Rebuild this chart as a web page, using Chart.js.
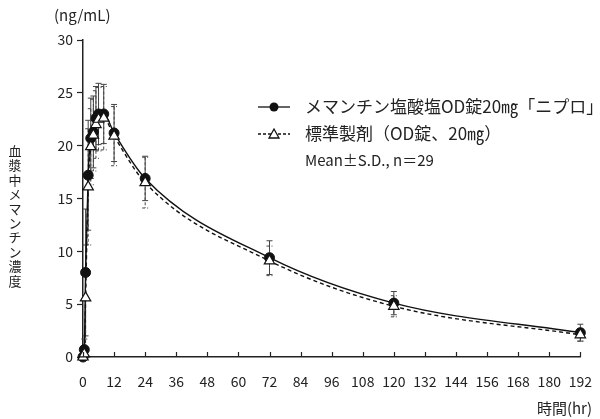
<!DOCTYPE html>
<html>
<head>
<meta charset="utf-8">
<script src="https://cdn.jsdelivr.net/npm/chart.js@4.4.1/dist/chart.umd.min.js"></script>
<style>
  html, body { margin: 0; padding: 0; background: #fff; }
  #wrap { position: relative; width: 600px; height: 419px; }
</style>
</head>
<body>
<div id="wrap"><canvas id="pkChart" width="600" height="419"></canvas></div>
<script>
// sampling times (hr)
var times = [0, 0.5, 1, 2, 3, 4, 5, 6, 8, 12, 24, 72, 120, 192];
// memantine OD 20mg "Nipro" (mean, SD)
var testMean = [0, 0.7, 8.0, 17.2, 20.7, 21.3, 22.6, 23.0, 23.0, 21.2, 16.9, 9.4, 5.1, 2.3];
var testSD   = [0, 1.0, 6.0, 5.2, 3.8, 3.4, 3.0, 2.9, 2.8, 2.7, 2.1, 1.6, 1.1, 0.8];
// reference product (mean, SD)
var refMean  = [0, 0.3, 5.6, 16.1, 19.9, 21.0, 22.0, 22.5, 22.6, 20.9, 16.5, 9.1, 4.8, 2.1];
var refSD    = [0, 0.6, 5.0, 5.5, 3.6, 3.4, 3.2, 3.0, 3.0, 2.8, 2.4, 1.4, 1.0, 0.6];

var xTicks = [0, 12, 24, 36, 48, 60, 72, 84, 96, 108, 120, 132, 144, 156, 168, 180, 192];
var yTicks = [0, 5, 10, 15, 20, 25, 30];

var legendLabels = ['メマンチン塩酸塩OD錠20㎎「ニプロ」', '標準製剤（OD錠、20㎎）', 'Mean±S.D., n＝29'];
var yTitle = '血漿中メマンチン濃度';

var FONT = '"Noto Sans CJK JP", "Noto Sans", sans-serif';
var INK = '#222';

function toXY(xs, ys) {
    return xs.map(function (x, i) { return { x: x, y: ys[i] }; });
}

var extrasPlugin = {
    id: 'extras',
    beforeDatasetsDraw: function (chart) {
        var c = chart.ctx, xs = chart.scales.x, ys = chart.scales.y;
        // error bars
        var sets = [[testMean, testSD, []], [refMean, refSD, [3, 2]]];
        c.save();
        c.strokeStyle = '#444';
        c.lineWidth = 1;
        sets.forEach(function (s) {
            c.setLineDash(s[2]);
            times.forEach(function (t, i) {
                if (!s[1][i]) return;
                var px = xs.getPixelForValue(t);
                var hi = ys.getPixelForValue(s[0][i] + s[1][i]);
                var lo = ys.getPixelForValue(Math.max(0, s[0][i] - s[1][i]));
                c.beginPath();
                c.moveTo(px, hi); c.lineTo(px, lo);
                c.moveTo(px - 3, hi); c.lineTo(px + 3, hi);
                c.moveTo(px - 3, lo); c.lineTo(px + 3, lo);
                c.stroke();
            });
        });
        c.restore();
    },
    afterDraw: function (chart) {
        var c = chart.ctx, xs = chart.scales.x, area = chart.chartArea;
        c.save();
        // x ticks pointing inward
        c.strokeStyle = INK;
        c.lineWidth = 1.2;
        xTicks.forEach(function (t) {
            var px = Math.round(xs.getPixelForValue(t)) + 0.5;
            c.beginPath();
            c.moveTo(px, area.bottom);
            c.lineTo(px, area.bottom - 5);
            c.stroke();
        });

        c.fillStyle = INK;
        c.font = '15px ' + FONT;
        c.textBaseline = 'middle';
        c.textAlign = 'left';
        c.fillText('(ng/mL)', 54, 15);
        c.textAlign = 'right';
        c.fillText('時間(hr)', 592, 408);

        // vertical title, upright characters
        c.textAlign = 'center';
        c.font = '13px ' + FONT;
        var chars = yTitle.split('');
        var step = 14.4;
        var y0 = 151;
        chars.forEach(function (ch, i) {
            c.fillText(ch, 15, y0 + i * step);
        });

        // legend
        var lx = 258, rows = [107, 134, 160];
        c.lineWidth = 1.3;
        c.strokeStyle = '#111';
        c.beginPath();
        c.moveTo(lx, rows[0]); c.lineTo(lx + 32, rows[0]);
        c.stroke();
        c.fillStyle = '#111';
        c.beginPath();
        c.arc(lx + 16, rows[0], 4.5, 0, Math.PI * 2);
        c.fill();

        c.setLineDash([3, 2]);
        c.beginPath();
        c.moveTo(lx, rows[1]); c.lineTo(lx + 32, rows[1]);
        c.stroke();
        c.setLineDash([]);
        c.fillStyle = '#fff';
        c.beginPath();
        c.moveTo(lx + 16, rows[1] - 5);
        c.lineTo(lx + 21, rows[1] + 4);
        c.lineTo(lx + 11, rows[1] + 4);
        c.closePath();
        c.fill();
        c.stroke();

        c.fillStyle = INK;
        c.textAlign = 'left';
        c.font = '17px ' + FONT;
        c.fillText(legendLabels[0], lx + 47, rows[0]);
        c.fillText(legendLabels[1], lx + 47, rows[1]);
        c.font = '15px ' + FONT;
        c.fillText(legendLabels[2], lx + 47, rows[2]);
        c.restore();
    }
};

var ctx = document.getElementById('pkChart').getContext('2d');
var pkChart = new Chart(ctx, {
    type: 'line',
    data: {
        datasets: [{
            label: legendLabels[0],
            data: toXY(times, testMean),
            borderColor: '#111',
            borderWidth: 1.4,
            backgroundColor: '#111',
            pointStyle: 'circle',
            pointRadius: 5,
            pointBorderWidth: 1,
            cubicInterpolationMode: 'monotone',
            clip: false,
            order: 1
        }, {
            label: legendLabels[1],
            data: toXY(times, refMean),
            borderColor: '#111',
            borderWidth: 1.4,
            borderDash: [4, 3],
            backgroundColor: '#fff',
            pointStyle: 'triangle',
            pointRadius: 6,
            pointBorderWidth: 1.2,
            cubicInterpolationMode: 'monotone',
            clip: false,
            order: 0
        }]
    },
    options: {
        responsive: false,
        animation: false,
        events: [],
        layout: { padding: { left: 0, right: 15, top: 40, bottom: 0 } },
        plugins: {
            legend: { display: false },
            tooltip: { enabled: false }
        },
        scales: {
            x: {
                type: 'linear',
                min: 0,
                max: 192,
                afterBuildTicks: function (scale) {
                    scale.ticks = xTicks.map(function (v) { return { value: v }; });
                },
                afterFit: function (scale) { scale.height = 62; },
                border: { color: INK, width: 1.5 },
                grid: { display: false },
                ticks: {
                    color: INK,
                    padding: 8,
                    maxRotation: 0,
                    autoSkip: false,
                    font: { family: FONT, size: 14 }
                }
            },
            y: {
                min: 0,
                max: 30,
                afterBuildTicks: function (scale) {
                    scale.ticks = yTicks.map(function (v) { return { value: v }; });
                },
                afterFit: function (scale) { scale.width = 83; },
                border: { color: INK, width: 1.5 },
                grid: { drawOnChartArea: false, tickLength: 6, color: INK, tickWidth: 1.2 },
                ticks: {
                    color: INK,
                    padding: 4,
                    font: { family: FONT, size: 14 }
                }
            }
        }
    },
    plugins: [extrasPlugin]
});
</script>
</body>
</html>
